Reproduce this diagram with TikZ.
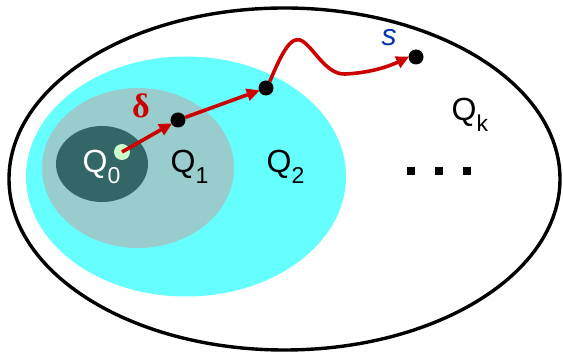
\documentclass[tikz,border=0pt]{standalone}
\usepackage{fontspec}
\setmainfont{Liberation Sans}
\newfontfamily\greekfont{Liberation Serif}
\usetikzlibrary{arrows.meta}
\definecolor{cyanfill}{HTML}{66FFFF}
\definecolor{grayfill}{HTML}{99CCCC}
\definecolor{darkfill}{HTML}{336666}
\definecolor{greendot}{HTML}{CCFFCC}
\definecolor{redarrow}{HTML}{CC0000}
\definecolor{bluetext}{HTML}{0033AA}
\tikzset{
  dot/.style={circle,fill=black,inner sep=0pt,minimum size=15pt},
  redarr/.style={draw=redarrow,line width=3.6pt,-{Triangle[length=13pt,width=12pt]},shorten >=-1pt},
  qlabel/.style={font=\fontsize{32}{34}\selectfont,inner sep=0pt,anchor=base west},
  sq/.style={fill=black,inner sep=0pt,minimum size=8pt}
}
\newcommand{\qsub}[1]{\raisebox{-0.32em}{\fontsize{23}{24}\selectfont #1}}
\begin{document}
\begin{tikzpicture}[x=1pt,y=-1pt]
\useasboundingbox (0,0) rectangle (563,352);
\draw[line width=3.4pt] (284.5,179) ellipse [x radius=275.5,y radius=171];
\fill[cyanfill] (186,176.5) ellipse [x radius=160,y radius=120];
\fill[grayfill] (138,168) ellipse [x radius=96,y radius=80];
\fill[darkfill] (102,164) ellipse [x radius=46,y radius=38];
\node[circle,fill=greendot,inner sep=0pt,minimum size=16pt] (q0) at (122,152) {};
\node[dot] (d1) at (178,120) {};
\node[dot] (d2) at (266,88) {};
\node[dot] (ds) at (416,57) {};
\node[qlabel,text=white] (lq0) at (82.5,173) {Q\qsub{0}};
\node[qlabel] (lq1) at (170.5,173) {Q\qsub{1}};
\node[qlabel] (lq2) at (266.5,173) {Q\qsub{2}};
\node[qlabel] (lqk) at (451.5,121) {Q\qsub{k}};
\node[text=redarrow,inner sep=0pt] (delta) at (141,106) {\fontsize{34}{36}\selectfont\greekfont\bfseries δ};
\node[text=bluetext,inner sep=0pt] (s) at (389,38) {\fontsize{30}{32}\selectfont\itshape s};
\node[sq] (p1) at (411,171) {};
\node[sq] (p2) at (439,171) {};
\node[sq] (p3) at (467,171) {};
\draw[redarr] (q0.center) -- (d1);
\draw[redarr] (d1) -- (d2);
\draw[redarr] (d2.60) .. controls (285,45) and (292,38) .. (300,40) .. controls (312,44) and (325,75) .. (345,74) .. controls (370,73) and (390,66) .. (ds.west);
\end{tikzpicture}
\end{document}
